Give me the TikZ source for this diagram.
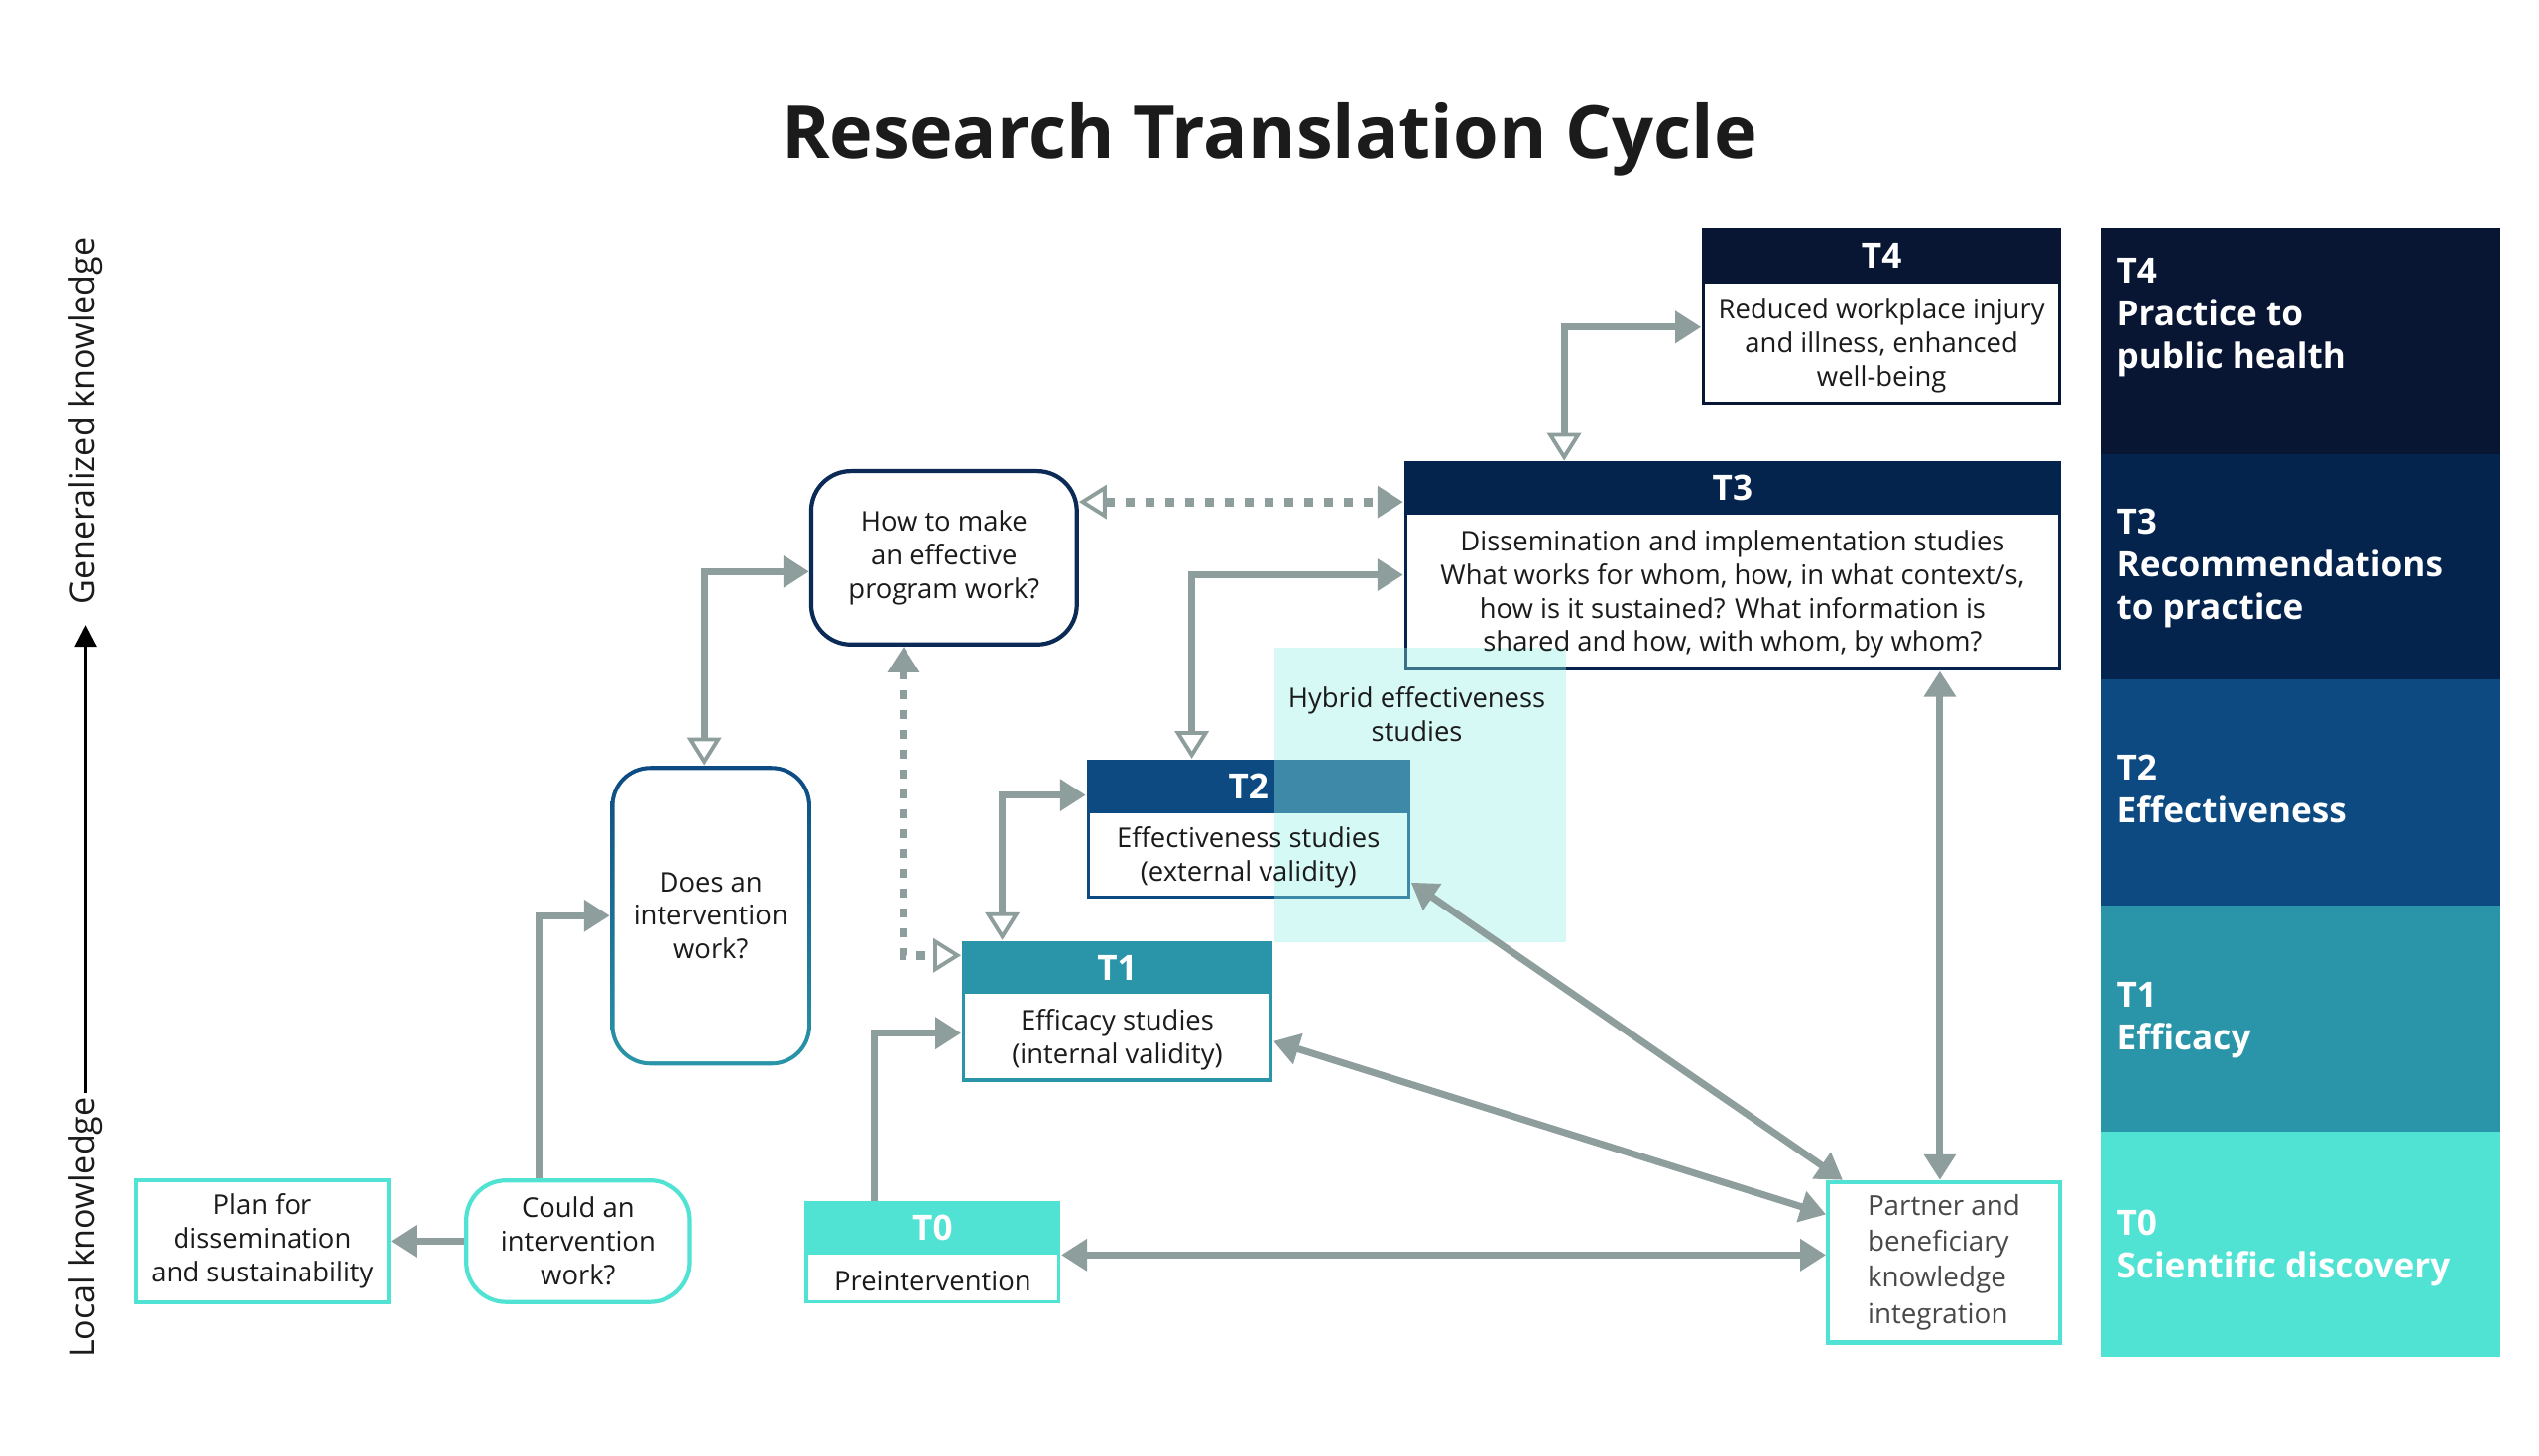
\documentclass[tikz,border=0pt]{standalone}
\usepackage{fontspec}
\setmainfont{Open Sans}
\usetikzlibrary{arrows.meta,fit}
\pgfdeclarelayer{back}
\pgfdeclarelayer{mid}
\pgfsetlayers{back,mid,main}
\definecolor{ink}{HTML}{1B1B1B}
\definecolor{cfour}{HTML}{081533}
\definecolor{cthree}{HTML}{05244D}
\definecolor{ctwo}{HTML}{0D4A82}
\definecolor{cone}{HTML}{2A95A8}
\definecolor{czero}{HTML}{50E3D3}
\definecolor{garrow}{HTML}{8D9E9C}
\definecolor{chyb}{HTML}{93F0E7}
\definecolor{chow}{HTML}{0B2A55}
\begin{document}
\begin{tikzpicture}[x=0.016327cm,y=-0.016327cm,
  hdr/.style={text=white,font=\fontsize{10}{12}\selectfont\bfseries},
  body/.style={align=center,text=ink,font=\fontsize{7.8}{9.6}\selectfont},
  band/.style={anchor=west,align=left,inner sep=0pt,text=white,font=\fontsize{10}{12.2}\selectfont\bfseries},
  axl/.style={rotate=90,text=ink,font=\fontsize{9.7}{11}\selectfont},
  qbox/.style={body,draw,fill=white,line width=1.2pt,rounded corners=4mm,inner sep=0pt},
  sqbox/.style={body,draw=czero,fill=white,line width=1.2pt,inner sep=0pt},
  arr/.style={draw=garrow,line width=2pt},
  dot/.style={draw=garrow,line width=2.5pt,dash pattern=on 0.09cm off 0.11cm},
  arf/.tip={Triangle[length=2.6mm,width=3.1mm]},
  aro/.tip={Triangle[open,length=2.8mm,width=3.4mm,line width=1.1pt]}]
  \useasboundingbox (0,0) rectangle (1568,899);
  \node[text=ink,font=\fontsize{21}{26}\selectfont\bfseries] (title) at (784,86) {Research Translation Cycle};

  \coordinate (loc) at (53,675);
  \coordinate (gen) at (53,386);
  \draw[line width=0.8pt,-{Triangle[length=2.2mm,width=2.2mm]}] (loc) -- (gen);
  \node[axl] (genl) at (53,260) {Generalized knowledge};
  \node[axl] (locl) at (53,758) {Local knowledge};

  \foreach \lab/\col/\k/\ty/\txt in {T4/cfour/0/196/{Practice to\\public health},
    T3/cthree/1/351/{Recommendations\\to practice},
    T2/ctwo/2/487/{Effectiveness},
    T1/cone/3/630/{Efficacy},
    T0/czero/4/771/{Scientific discovery}}
  {
    \pgfmathsetmacro{\ya}{141+\k*139.4}
    \fill[\col] (1297,\ya) rectangle (1544,\ya+139.6);
    \node[band] (band\lab) at (1307,\ty) {\lab\\\txt};
  }

  \foreach \nm/\lab/\col/\xa/\ya/\xb/\yb/\yh/\txt in {
    t4/T4/cfour/1051/141/1273/250/175/{Reduced workplace injury\\and illness, enhanced\\well-being},
    t3/T3/cthree/867/285/1273/414/318/{Dissemination and implementation studies\\What works for whom, how, in what context/s,\\how is it sustained? What information is\\shared and how, with whom, by whom?},
    t2/T2/ctwo/671/469/871/555/502/{Effectiveness studies\\(external validity)},
    t1/T1/cone/594/581/786/668/614/{Efficacy studies\\(internal validity)},
    t0/T0/czero/497/742/655/805/775/{Preintervention}}
  {
    \pgfmathsetmacro{\xm}{(\xa+\xb)/2}
    \begin{pgfonlayer}{back}
      \fill[\col] (\xa,\ya) rectangle (\xb,\yb);
      \fill[white] (\xa+2,\yh) rectangle (\xb-2,\yb-2);
    \end{pgfonlayer}
    \node[hdr] at (\xm,{(\ya+\yh)/2}) {\lab};
    \node[body] at (\xm,{(\yh+\yb)/2+1}) {\txt};
    \node[fit={(\xa,\ya) (\xb,\yb)},inner sep=0pt] (\nm) {};
  }

  \node[qbox,draw=chow,minimum width=2.678cm,minimum height=1.747cm] (how) at (583,344.5) {How to make\\an effective\\program work?};
  \shade[top color=ctwo,bottom color=cone,rounded corners=4mm] (377,473) rectangle (501,658);
  \fill[white,rounded corners=3.6mm] (379.5,475.5) rectangle (498.5,655.5);
  \node[body,minimum width=2.025cm,minimum height=3.02cm] (does) at (439,565.5) {Does an\\intervention\\work?};
  \node[qbox,draw=czero,minimum width=2.253cm,minimum height=1.225cm] (could) at (357,766.5) {Could an\\intervention\\work?};
  \node[sqbox,minimum width=2.547cm,minimum height=1.225cm] (plan) at (162,766.5) {Plan for\\dissemination\\and sustainability};
  \node[sqbox,minimum width=2.335cm,minimum height=1.616cm,align=left,text=ink!80,font=\fontsize{7.9}{10.3}\selectfont] (partner) at (1200.5,779.5) {Partner and\\beneficiary\\knowledge\\integration};

  \begin{pgfonlayer}{mid}
    \fill[chyb,opacity=0.38] (787,400) rectangle (967,582);
  \end{pgfonlayer}
  \node[body] (hybrid) at (875,441) {Hybrid effectiveness\\studies};

  \draw[arr,-arf] (333,0 |- could.north) |- (does.west);
  \draw[arr,-arf] (could.west) -- (plan.east);
  \draw[arr,aro-arf] (435,0 |- does.north) |- (how.west |- 0,353);
  \draw[dot,aro-arf] (how.east |- 0,310) -- (t3.west |- 0,310);
  \draw[dot,arf-aro] (558,0 |- how.south) |- (t1.west |- 0,590);
  \draw[arr,aro-arf] (966,0 |- t3.north) |- (t4.west |- 0,202);
  \draw[arr,aro-arf] (736,0 |- t2.north) |- (t3.west |- 0,355);
  \draw[arr,aro-arf] (619,0 |- t1.north) |- (t2.west |- 0,491);
  \draw[arr,-arf] (540,0 |- t0.north) |- (t1.west |- 0,638);
  \draw[arr,arf-arf] (t0.east |- 0,775) -- (partner.west |- 0,775);
  \draw[arr,arf-arf] (t1.east |- 0,643) -- (partner.west |- 0,750);
  \draw[arr,arf-arf] (t2.east |- 0,545) -- (1138,0 |- partner.north);
  \draw[arr,arf-arf] (1198,0 |- t3.south) -- (1198,0 |- partner.north);
\end{tikzpicture}
\end{document}
